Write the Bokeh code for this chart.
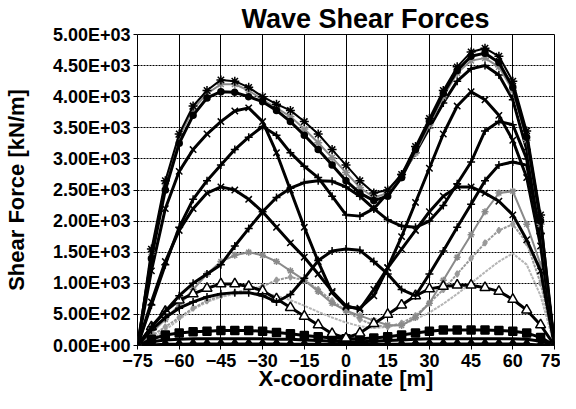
from bokeh.plotting import figure
from bokeh.models import ColumnDataSource, FixedTicker, Range1d
from bokeh.embed import file_html
from bokeh.resources import INLINE

# ---------------- data ----------------
x_m = [-75, -70, -65, -60, -55, -50, -45, -40, -35, -30, -25, -20, -15, -10, -5, 0,
       5, 10, 15, 20, 25, 30, 35, 40, 45, 50, 55, 60, 65, 70, 75]

env_star = [0, 1550, 2650, 3400, 3850, 4100, 4270, 4250, 4150, 4000, 3880, 3780, 3600, 3400, 3150, 2900,
            2650, 2450, 2500, 2750, 3200, 3650, 4100, 4480, 4720, 4780, 4650, 4250, 3450, 2100, 0]
env_circle = [0, 1400, 2500, 3250, 3700, 3980, 4080, 4070, 4000, 3920, 3780, 3600, 3380, 3150, 2900, 2650,
              2450, 2330, 2400, 2700, 3150, 3600, 4050, 4420, 4650, 4700, 4550, 4150, 3350, 2000, 0]
env_grey = [0, 1500, 2600, 3350, 3800, 4050, 4200, 4200, 4100, 3950, 3820, 3680, 3480, 3260, 3020, 2780,
            2540, 2380, 2450, 2700, 3100, 3550, 4000, 4380, 4580, 4620, 4480, 4100, 3300, 1950, 0]
wave_c = [0, 1200, 2200, 2800, 3150, 3400, 3600, 3770, 3820, 3600, 3100, 2500, 1900, 1350, 850, 620,
          600, 800, 1250, 1750, 2300, 2850, 3400, 3850, 4080, 3950, 3700, 3300, 2700, 1600, 0]
wave_p2 = [0, 650, 1300, 1900, 2350, 2650, 2900, 3150, 3350, 3520, 3380, 3100, 2880, 2700, 2400, 2100,
           2080, 2200, 2450, 2750, 3100, 3500, 3900, 4250, 4450, 4500, 4350, 3950, 3150, 1800, 0]
wave_p3 = [0, 700, 1350, 1850, 2200, 2450, 2550, 2500, 2350, 2150, 1900, 1650, 1420, 1150, 870, 640,
           580, 900, 1250, 1550, 1850, 2150, 2400, 2550, 2550, 2450, 2320, 2100, 1700, 1200, 0]
wave_p4 = [0, 300, 550, 800, 1000, 1150, 1300, 1600, 1880, 2150, 2380, 2530, 2620, 2650, 2640, 2550,
           2400, 2200, 2020, 1920, 1900, 2000, 2250, 2600, 2950, 3450, 3600, 3550, 3000, 1800, 0]
wave_p5 = [0, 250, 450, 600, 700, 780, 830, 850, 850, 800, 700, 820, 1080, 1365, 1520, 1550,
           1530, 1350, 1150, 900, 800, 1150, 1520, 1900, 2270, 2650, 2900, 2950, 2900, 1800, 0]
wave_tri = [0, 300, 550, 730, 830, 920, 990, 990, 950, 880, 750, 610, 470, 330, 190, 120,
            200, 350, 500, 650, 800, 910, 950, 970, 970, 930, 870, 740, 570, 330, 0]
grey_a = [0, 200, 420, 650, 900, 1150, 1350, 1450, 1500, 1450, 1350, 1200, 1050, 870, 680, 560,
          480, 400, 330, 320, 450, 680, 1050, 1420, 1780, 2150, 2450, 2480, 1950, 1300, 0]
grey_b = [0, 150, 300, 450, 600, 720, 800, 850, 900, 950, 1050, 1100, 1050, 900, 720, 560,
          420, 330, 300, 360, 480, 680, 900, 1150, 1400, 1650, 1850, 1950, 1650, 1000, 0]
grey_c = [0, 100, 250, 420, 580, 700, 780, 830, 850, 840, 800, 730, 640, 540, 450, 370,
          310, 280, 300, 340, 420, 530, 670, 830, 1000, 1180, 1350, 1480, 1300, 800, 0]
low_sq = [0, 100, 170, 200, 220, 230, 240, 240, 240, 230, 210, 190, 160, 140, 120, 110,
          110, 120, 140, 170, 200, 230, 250, 250, 250, 250, 240, 230, 200, 130, 0]
low_dash = [0, 60, 90, 100, 110, 110, 110, 110, 110, 110, 100, 100, 90, 80, 70, 60,
            60, 70, 80, 90, 100, 110, 110, 110, 110, 110, 110, 110, 100, 70, 0]
low_dia = [0, 10, 20, 20, 25, 25, 25, 25, 25, 25, 25, 20, 20, 20, 15, 15,
           15, 20, 20, 20, 25, 25, 25, 25, 25, 25, 25, 25, 20, 10, 0]

x_ticks = [-75, -60, -45, -30, -15, 0, 15, 30, 45, 60, 75]
y_ticks = [0, 500, 1000, 1500, 2000, 2500, 3000, 3500, 4000, 4500, 5000]
y_tick_labels = ["0.00E+00", "5.00E+02", "1.00E+03", "1.50E+03", "2.00E+03", "2.50E+03",
                 "3.00E+03", "3.50E+03", "4.00E+03", "4.50E+03", "5.00E+03"]

FONT = "Liberation Sans"

p = figure(width=560, height=393, output_backend="svg", toolbar_location=None,
           x_range=Range1d(-75, 75), y_range=Range1d(0, 5000),
           title="Wave Shear Forces")
p.min_border_left = 133
p.min_border_right = 6
p.min_border_top = 29
p.min_border_bottom = 0

p.title.align = "left"
p.title.offset = 104
p.title.text_font = FONT
p.title.text_font_style = "bold"
p.title.text_font_size = "27px"
p.title.text_color = "black"
p.title.standoff = 2

p.outline_line_color = "black"
p.outline_line_width = 1
p.background_fill_color = "white"
p.border_fill_color = "white"

p.xgrid.grid_line_color = "black"
p.xgrid.grid_line_width = 1
p.ygrid.grid_line_color = "black"
p.ygrid.grid_line_dash = "2 1"
p.ygrid.grid_line_width = 1

p.xaxis.ticker = FixedTicker(ticks=x_ticks)
p.yaxis.ticker = FixedTicker(ticks=y_ticks)
p.yaxis.major_label_overrides = {t: l for t, l in zip(y_ticks, y_tick_labels)}
for ax in (p.xaxis[0], p.yaxis[0]):
    ax.axis_line_color = None
    ax.minor_tick_line_color = None
    ax.major_tick_line_color = "black"
    ax.major_tick_out = 4
    ax.major_tick_in = 0
    ax.major_label_text_font = FONT
    ax.major_label_text_font_style = "bold"
    ax.major_label_text_font_size = "18px"
    ax.major_label_text_color = "black"
    ax.axis_label_text_font = FONT
    ax.axis_label_text_font_style = "bold"
    ax.axis_label_text_font_size = "22px"
    ax.axis_label_text_color = "black"
p.xaxis.axis_label = "X-coordinate [m]"
p.yaxis.axis_label = "Shear Force [kN/m]"
p.xaxis.major_label_standoff = 4
p.xaxis.axis_label_standoff = -4
p.yaxis.major_label_standoff = 3
p.yaxis.axis_label_standoff = 21

series = [
    (grey_c, "#b5b5b5", 2, "3 1", "circle", 0, None),
    (grey_b, "#9a9a9a", 2, "3 1", "diamond", 6, "#9a9a9a"),
    (grey_a, "#8a8a8a", 2, None, "asterisk", 7, None),
    (low_dia, "black", 3, None, "diamond", 10, "black"),
    (low_dash, "black", 3, None, "dash", 8, None),
    (low_sq, "black", 3, None, "square", 8, "black"),
    (wave_tri, "black", 3, None, "triangle", 10, "white"),
    (wave_p5, "black", 3, None, "cross", 8, None),
    (wave_p4, "black", 3, None, "cross", 8, None),
    (wave_p3, "black", 3, None, "x", 9, None),
    (wave_p2, "black", 3, None, "cross", 8, None),
    (wave_c, "black", 3, None, "x", 9, None),
    (env_grey, "#8a8a8a", 2, None, "asterisk", 8, None),
    (env_circle, "black", 3, None, "circle", 6, "black"),
    (env_star, "black", 2, None, "asterisk", 9, None),
]

for vals, col, lw, dash, mk, ms, fill in series:
    src = ColumnDataSource(dict(x=x_m, y=vals))
    kw = {}
    if dash:
        kw["line_dash"] = dash
    p.line("x", "y", source=src, line_color=col, line_width=lw, **kw)
    if mk and ms:
        p.scatter("x", "y", source=src, marker=mk, size=ms, line_color=col,
                  line_width=1.5, fill_color=fill if fill else None)

open("out.html", "w").write(file_html(p, INLINE))
